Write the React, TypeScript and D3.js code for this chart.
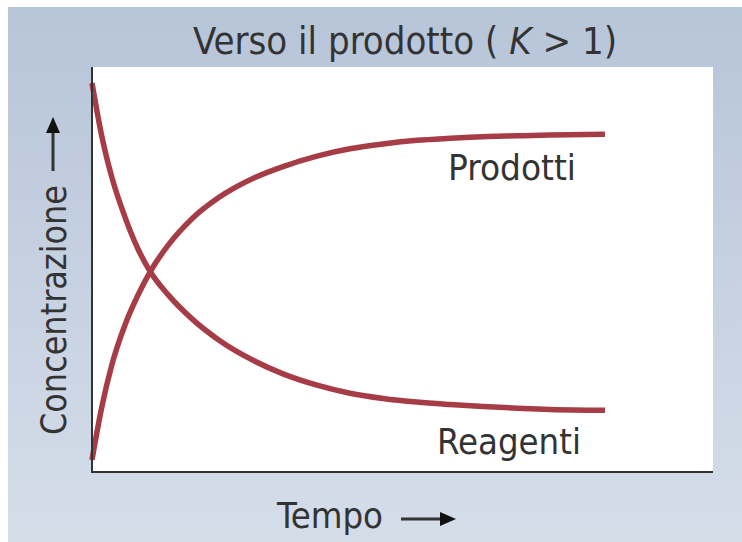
import React from "react";
import * as d3 from "d3";

// time samples (percent of plot width) and concentrations (percent of plot height)
const tempo = [0, 1.61, 3.23, 5.32, 7.42, 9.35, 12.26, 16.13, 20.32, 26.29, 30.81, 36.29, 41.61, 46.94, 52.42, 57.74, 63.06, 68.55, 73.87, 82.74];
const reagenti = [96.3, 82.9, 72.8, 63.1, 55.2, 49.7, 43.9, 37.9, 32.8, 27.4, 24.3, 21.5, 19.5, 18.2, 17.3, 16.7, 16.2, 15.8, 15.5, 15.3];
const prodotti = [3.0, 16.3, 26.7, 36.4, 43.8, 49.5, 56.1, 62.7, 67.8, 72.9, 75.6, 78.2, 80.0, 81.2, 82.1, 82.6, 83.0, 83.2, 83.4, 83.6];

const titolo = "Verso il prodotto";
const etichettaX = "Tempo";
const etichettaY = "Concentrazione";

const W = 742;
const H = 542;
const plot = { left: 92, right: 713, top: 67, bottom: 472 };
const red = "#a63c46";
const ink = "#333";
const font = "'Liberation Sans Narrow', 'DejaVu Sans Condensed', 'Open Sans', sans-serif";

export default function App() {
  const x = d3.scaleLinear().domain([0, 100]).range([plot.left, plot.left + 620]);
  const y = d3.scaleLinear().domain([0, 100]).range([plot.bottom, plot.bottom - 404]);

  const line = d3
    .line<number>()
    .x((_, i) => x(tempo[i]))
    .y((d) => y(d))
    .curve(d3.curveMonotoneX);

  return (
    <svg width={W} height={H} style={{ position: "absolute", left: 0, top: 0 }}>
      <defs>
        <linearGradient id="bg" x1="0" y1="0" x2="0" y2="1">
          <stop offset="0" stopColor="#b7c5d9" />
          <stop offset="1" stopColor="#d5dde9" />
        </linearGradient>
      </defs>
      <rect x={0} y={0} width={W} height={H} fill="#fff" />
      <rect x={8} y={7} width={W - 8} height={H - 7} fill="url(#bg)" />
      <rect x={plot.left} y={plot.top} width={plot.right - plot.left} height={plot.bottom - plot.top} fill="#fff" />

      {/* titolo */}
      <text x={405} y={54} textAnchor="middle" fontFamily={font} fontSize={37} fill={ink} textLength={424} lengthAdjust="spacingAndGlyphs">
        {titolo} ( <tspan fontStyle="italic">K</tspan> &gt; 1)
      </text>

      {/* curve */}
      <path d={line(reagenti) || ""} fill="none" stroke={red} strokeWidth={5.5} strokeLinecap="butt" />
      <path d={line(prodotti) || ""} fill="none" stroke={red} strokeWidth={5.5} strokeLinecap="butt" />

      {/* assi */}
      <line x1={plot.left} y1={plot.top} x2={plot.left} y2={plot.bottom + 1} stroke={ink} strokeWidth={2} />
      <line x1={plot.left - 1} y1={plot.bottom} x2={plot.right} y2={plot.bottom} stroke={ink} strokeWidth={2} />

      {/* etichette delle curve */}
      <text x={448} y={180} fontFamily={font} fontSize={36} fill={ink} textLength={128} lengthAdjust="spacingAndGlyphs">
        Prodotti
      </text>
      <text x={437} y={454} fontFamily={font} fontSize={36} fill={ink} textLength={144} lengthAdjust="spacingAndGlyphs">
        Reagenti
      </text>

      {/* asse x */}
      <text x={277} y={528} fontFamily={font} fontSize={36} fill={ink} textLength={106} lengthAdjust="spacingAndGlyphs">
        {etichettaX}
      </text>
      <line x1={401} y1={519} x2={442} y2={519} stroke={ink} strokeWidth={3} />
      <path d="M440,512 L456,519 L440,526 Z" fill="#111" />

      {/* asse y */}
      <text transform="translate(66,435) rotate(-90)" fontFamily={font} fontSize={36} fill={ink} textLength={250} lengthAdjust="spacingAndGlyphs">
        {etichettaY}
      </text>
      <line x1={53} y1={171} x2={53} y2={130} stroke={ink} strokeWidth={3} />
      <path d="M46,133 L53,117 L60,133 Z" fill="#111" />
    </svg>
  );
}
